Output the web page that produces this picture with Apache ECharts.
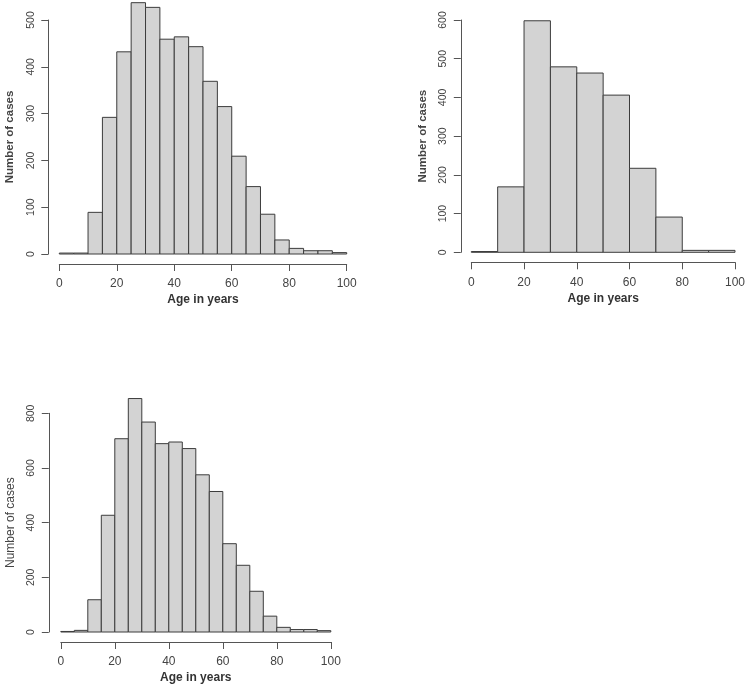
<!DOCTYPE html>
<html>
<head>
<meta charset="utf-8">
<script src="https://cdn.jsdelivr.net/npm/echarts@6/dist/echarts.min.js"></script>
<style>
html,body{margin:0;padding:0;background:#fff;}
#chart{width:748px;height:685px;}
</style>
</head>
<body>
<div id="chart"></div>
<script>
// Panel 1: 5-year bins
const binStarts1 = [0,5,10,15,20,25,30,35,40,45,50,55,60,65,70,75,80,85,90,95];
const counts1 = [2,2,89,292,432,537,527,459,464,443,369,315,209,144,85,30,12,7,7,3];
const binWidth1 = 5;
// Panel 2: 10-year bins
const binStarts2 = [0,10,20,30,40,50,60,70,80,90];
const counts2 = [2,169,598,479,463,406,217,91,5,5];
const binWidth2 = 10;
// Panel 3: 5-year bins
const binStarts3 = [0,5,10,15,20,25,30,35,40,45,50,55,60,65,70,75,80,85,90,95];
const counts3 = [2,6,118,427,707,854,768,689,695,671,575,514,323,244,149,58,17,9,9,5];
const binWidth3 = 5;

const xTicks = [0,20,40,60,80,100];
const xTitle = 'Age in years';
const yTitle = 'Number of cases';

function histData(starts, counts, w){
  return starts.map((s,i)=>[s, s+w, counts[i]]);
}

const FONT = '"Liberation Sans", Arial, sans-serif';
const AXIS_COLOR = '#555';
const LABEL_COLOR = '#444';

function renderItem(params, api){
  const p0 = api.coord([api.value(0), api.value(2)]);
  const p1 = api.coord([api.value(1), 0]);
  return {
    type: 'rect',
    shape: {x: p0[0], y: p0[1], width: p1[0]-p0[0], height: p1[1]-p0[1]},
    style: {fill: '#d3d3d3', stroke: '#3c3c3c', lineWidth: 1}
  };
}

function xAxisCfg(gi){
  return {
    gridIndex: gi, type: 'value', min: 0, max: 100, interval: 20,
    offset: 10, position: 'bottom',
    axisLine: {show: true, onZero: false, lineStyle: {color: AXIS_COLOR, width: 1}},
    axisTick: {show: true, length: 7, lineStyle: {color: AXIS_COLOR}},
    axisLabel: {margin: 14, fontSize: 12, color: LABEL_COLOR, fontFamily: FONT},
    splitLine: {show: false},
    name: xTitle, nameLocation: 'middle', nameGap: 30,
    nameTextStyle: {fontSize: 12, fontWeight: 'bold', color: '#333', fontFamily: FONT}
  };
}
function yAxisCfg(gi, max, interval, off, bold){
  return {
    gridIndex: gi, type: 'value', min: 0, max: max, interval: interval,
    offset: off, position: 'left',
    axisLine: {show: true, onZero: false, lineStyle: {color: AXIS_COLOR, width: 1}},
    axisTick: {show: true, length: 7, lineStyle: {color: AXIS_COLOR}},
    axisLabel: {rotate: 90, margin: 12, fontSize: 10.5, color: LABEL_COLOR, fontFamily: FONT},
    splitLine: {show: false},
    name: yTitle, nameLocation: 'middle', nameRotate: 90, nameGap: 32,
    nameTextStyle: {fontSize: bold ? 11.5 : 12, fontWeight: bold ? 'bold' : 'normal', color: '#444', fontFamily: FONT}
  };
}

const chart = echarts.init(document.getElementById('chart'), null, {renderer: 'canvas'});
chart.setOption({
  animation: false,
  backgroundColor: '#ffffff',
  grid: [
    {left: 59.3, top: 20, width: 287.4, height: 234},
    {left: 471.3, top: 20, width: 267, height: 232.3},
    {left: 60.8, top: 413.3, width: 270, height: 219}
  ],
  xAxis: [xAxisCfg(0), xAxisCfg(1), xAxisCfg(2)],
  yAxis: [
    yAxisCfg(0, 500, 100, 11, true),
    yAxisCfg(1, 600, 100, 10.5, true),
    yAxisCfg(2, 800, 200, 12, false)
  ],
  series: [
    {type: 'custom', xAxisIndex: 0, yAxisIndex: 0, clip: false, renderItem: renderItem,
     data: histData(binStarts1, counts1, binWidth1), encode: {x: [0,1], y: 2}},
    {type: 'custom', xAxisIndex: 1, yAxisIndex: 1, clip: false, renderItem: renderItem,
     data: histData(binStarts2, counts2, binWidth2), encode: {x: [0,1], y: 2}},
    {type: 'custom', xAxisIndex: 2, yAxisIndex: 2, clip: false, renderItem: renderItem,
     data: histData(binStarts3, counts3, binWidth3), encode: {x: [0,1], y: 2}}
  ]
});
</script>
</body>
</html>
